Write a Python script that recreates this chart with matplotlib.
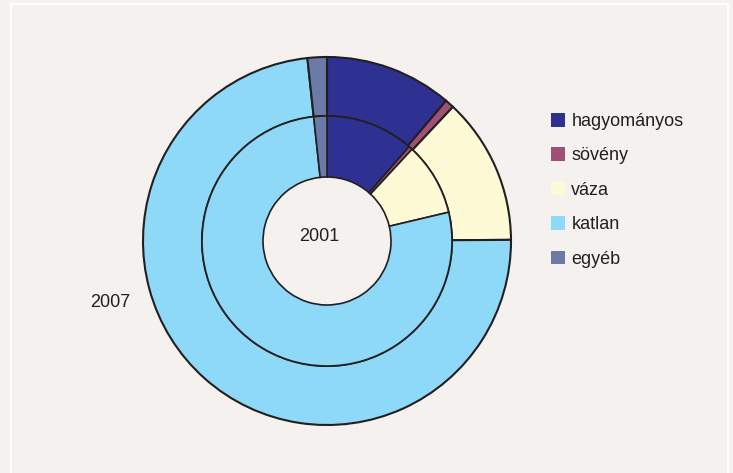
import matplotlib
matplotlib.use("Agg")
import matplotlib.pyplot as plt
from matplotlib.patches import Patch, Rectangle

categories = ["hagyományos", "sövény", "váza", "katlan", "egyéb"]
values_2007 = [11.2, 0.8, 12.9, 73.4, 1.7]
values_2001 = [11.4, 0.5, 9.4, 77.0, 1.7]
colors = ["#2e3192", "#a04f75", "#fffad6", "#8ed8f8", "#6c7aa8"]
bg = "#f5f1ee"
edge = "#231f20"

W, H = 733, 473
fig = plt.figure(figsize=(W / 100, H / 100), dpi=100, facecolor=bg)
fig.add_artist(Rectangle((11 / W, -0.01), (728 - 11) / W, 1 - 4 / H + 0.01,
                         transform=fig.transFigure, fill=False,
                         edgecolor="white", linewidth=1.5))

cx, cy, R = 327, 241, 184
L = 1.02
ax = fig.add_axes([(cx - R * L) / W, (H - cy - R * L) / H, 2 * R * L / W, 2 * R * L / H])
ax.set_facecolor(bg)
ax.axis("off")

r_mid = 125 / R
r_hole = 64 / R
ax.pie(values_2007, colors=colors, radius=1.0, startangle=90, counterclock=False,
       wedgeprops=dict(width=1.0 - r_mid, edgecolor=edge, linewidth=1.5))
ax.pie(values_2001, colors=colors, radius=r_mid, startangle=90, counterclock=False,
       wedgeprops=dict(width=r_mid - r_hole, edgecolor=edge, linewidth=1.2))
ax.set_aspect("equal")
ax.set_xlim(-L, L)
ax.set_ylim(-L, L)

fig.text(319 / W, 1 - 236 / H, "2001", ha="center", va="center",
         fontsize=13, family="Liberation Sans", color="#231f20")
fig.text(110 / W, 1 - 302 / H, "2007", ha="center", va="center",
         fontsize=13, family="Liberation Sans", color="#231f20")

handles = [Patch(facecolor=c, edgecolor="none") for c in colors]
leg = fig.legend(handles, categories, loc="upper left",
                 bbox_to_anchor=(551 / W, 1 - 113 / H), frameon=False,
                 prop=dict(family="Liberation Sans", size=13),
                 handlelength=0.78, handleheight=0.78, handletextpad=0.35,
                 labelspacing=0.96, borderpad=0, borderaxespad=0)
for t in leg.get_texts():
    t.set_color("#231f20")

fig.savefig("out.png", dpi=100, facecolor=bg)
